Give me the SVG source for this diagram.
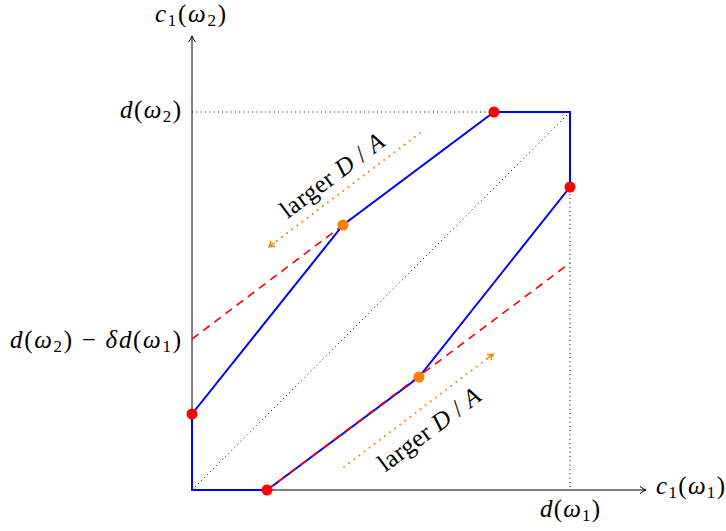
<svg xmlns="http://www.w3.org/2000/svg" width="726" height="531" viewBox="0 0 726 531">
<defs>
<style>
.ax{stroke:#000;stroke-width:1;fill:none}
.dot{stroke:#000;stroke-width:1;stroke-dasharray:1 3.3;fill:none}
.blue{stroke:#0000ff;stroke-width:2;fill:none;stroke-linejoin:miter}
.rd{stroke:#ff0000;stroke-width:1.6;stroke-dasharray:8 6;fill:none}
.od{stroke:#ff8000;stroke-width:2;stroke-dasharray:0.1 6.3;stroke-linecap:round;fill:none}
text{font-family:"Liberation Serif","DejaVu Serif",serif;font-size:25px;fill:#000}
.m{font-style:italic}
.sub{font-size:17px;font-style:normal}
</style>
<marker id="ah" markerWidth="10" markerHeight="10" refX="7" refY="5" orient="auto" markerUnits="userSpaceOnUse">
<path d="M1,1.5 Q4,4 7,5 Q4,6 1,8.5" fill="none" stroke="#000" stroke-width="1"/>
</marker>
<marker id="oh" markerWidth="10" markerHeight="10" refX="6" refY="5" orient="auto" markerUnits="userSpaceOnUse">
<path d="M1,1.5 Q3.5,4 6,5 Q3.5,6 1,8.5" fill="none" stroke="#ff8000" stroke-width="1.4"/>
</marker>
</defs>
<g id="connectors">
<line class="dot" x1="192" y1="112" x2="570" y2="112"/>
<line class="dot" x1="570" y1="112" x2="570" y2="490"/>
<line class="dot" x1="192" y1="490" x2="570" y2="112"/>
<line class="ax" x1="192" y1="490" x2="646" y2="490" marker-end="url(#ah)"/>
<line class="ax" x1="192" y1="490" x2="192" y2="36" marker-end="url(#ah)"/>
<polygon class="blue" points="192,490 192,414 343,225 494,112 570,112 570,187 419,377 267,490"/>
<line class="rd" x1="192" y1="339" x2="343" y2="225"/>
<line class="rd" x1="267" y1="490" x2="570" y2="263"/>
<line class="od" x1="420" y1="133" x2="270" y2="246"/>
<line x1="275" y1="242.2" x2="269" y2="246.7" marker-end="url(#oh)" style="stroke:#ff8000;stroke-width:1.2"/>
<line class="od" x1="344" y1="467" x2="492" y2="355"/>
<line x1="487" y1="358.8" x2="493" y2="354.3" marker-end="url(#oh)" style="stroke:#ff8000;stroke-width:1.2"/>
</g>
<g id="points">
<circle cx="192" cy="414" r="5.5" fill="#ff0000"/>
<circle cx="494" cy="112" r="5.5" fill="#ff0000"/>
<circle cx="570" cy="187" r="5.5" fill="#ff0000"/>
<circle cx="267" cy="490" r="5.5" fill="#ff0000"/>
<circle cx="343" cy="225" r="5.5" fill="#ff8000"/>
<circle cx="419" cy="377" r="5.5" fill="#ff8000"/>
</g>
<g id="labels">
<text x="155" y="22" textLength="71" lengthAdjust="spacing"><tspan class="m">c</tspan><tspan class="sub" dy="4">1</tspan><tspan dy="-4">(</tspan><tspan class="m">ω</tspan><tspan class="sub" dy="4">2</tspan><tspan dy="-4">)</tspan></text>
<text x="120" y="118" textLength="61" lengthAdjust="spacing"><tspan class="m">d</tspan>(<tspan class="m">ω</tspan><tspan class="sub" dy="4">2</tspan><tspan dy="-4">)</tspan></text>
<text x="10" y="348" textLength="171" lengthAdjust="spacing"><tspan class="m">d</tspan>(<tspan class="m">ω</tspan><tspan class="sub" dy="4">2</tspan><tspan dy="-4">) − </tspan><tspan class="m">δd</tspan>(<tspan class="m">ω</tspan><tspan class="sub" dy="4">1</tspan><tspan dy="-4">)</tspan></text>
<text x="540" y="517" textLength="60" lengthAdjust="spacing"><tspan class="m">d</tspan>(<tspan class="m">ω</tspan><tspan class="sub" dy="4">1</tspan><tspan dy="-4">)</tspan></text>
<text x="656" y="494" textLength="69" lengthAdjust="spacing"><tspan class="m">c</tspan><tspan class="sub" dy="4">1</tspan><tspan dy="-4">(</tspan><tspan class="m">ω</tspan><tspan class="sub" dy="4">1</tspan><tspan dy="-4">)</tspan></text>
<text transform="translate(337,182) rotate(-36.87)" x="-62" y="0" textLength="124" lengthAdjust="spacing">larger <tspan class="m">D</tspan> / <tspan class="m">A</tspan></text>
<text transform="translate(434,436) rotate(-36.87)" x="-61" y="0" textLength="122" lengthAdjust="spacing">larger <tspan class="m">D</tspan> / <tspan class="m">A</tspan></text>
</g>
</svg>
